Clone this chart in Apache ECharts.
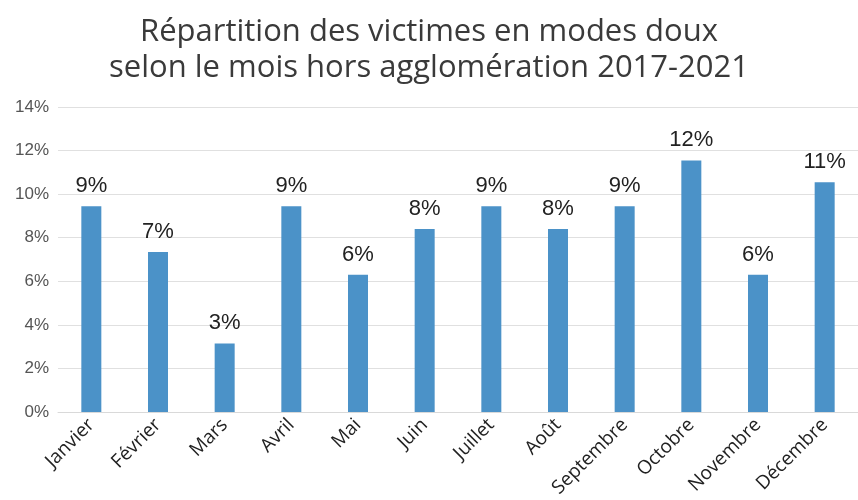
<!DOCTYPE html>
<html>
<head>
<meta charset="utf-8">
<script src="https://cdn.jsdelivr.net/npm/echarts@6/dist/echarts.min.js"></script>
<style>
  html, body { margin: 0; padding: 0; background: #fff; }
  #chart { width: 858px; height: 500px; }
</style>
</head>
<body>
<div id="chart"></div>
<script>
const MONTHS = ["Janvier", "Février", "Mars", "Avril", "Mai", "Juin", "Juillet", "Août", "Septembre", "Octobre", "Novembre", "Décembre"];
// part des victimes, en %
const SHARES = [9.45, 7.35, 3.15, 9.45, 6.3, 8.4, 9.45, 8.4, 9.45, 11.55, 6.3, 10.55];
const Y_TICKS = [0, 2, 4, 6, 8, 10, 12, 14];

const TITLE = "Répartition des victimes en modes doux\nselon le mois hors agglomération 2017-2021";

const chart = echarts.init(document.getElementById("chart"));

chart.setOption({
  backgroundColor: "#ffffff",
  animation: false,
  title: {
    text: TITLE,
    left: "center",
    top: 9,
    textStyle: {
      fontFamily: "Open Sans",
      fontWeight: "normal",
      fontSize: 31,
      lineHeight: 36,
      color: "#3a3a3a"
    }
  },
  grid: { left: 58, right: -4, top: 107, bottom: 87, containLabel: false },
  xAxis: {
    type: "category",
    data: MONTHS,
    axisLine: { lineStyle: { color: "#d9d9d9" } },
    axisTick: { show: false },
    axisLabel: {
      rotate: 45,
      interval: 0,
      margin: 10,
      fontFamily: "Open Sans",
      fontSize: 19,
      color: "#222"
    }
  },
  yAxis: {
    type: "value",
    min: Y_TICKS[0],
    max: Y_TICKS[Y_TICKS.length - 1],
    interval: 2,
    axisLine: { show: false },
    axisTick: { show: false },
    splitLine: { lineStyle: { color: "#e0e0e0" } },
    axisLabel: {
      margin: 9,
      fontFamily: "Liberation Sans",
      fontSize: 17,
      color: "#555",
      formatter: v => v + "%"
    }
  },
  series: [{
    type: "bar",
    data: SHARES,
    barWidth: 20,
    itemStyle: { color: "#4b92c8" },
    label: {
      show: true,
      position: "top",
      distance: 9,
      fontFamily: "Liberation Sans",
      fontSize: 22,
      color: "#222",
      formatter: p => Math.round(p.value) + "%"
    }
  }]
});
</script>
</body>
</html>
